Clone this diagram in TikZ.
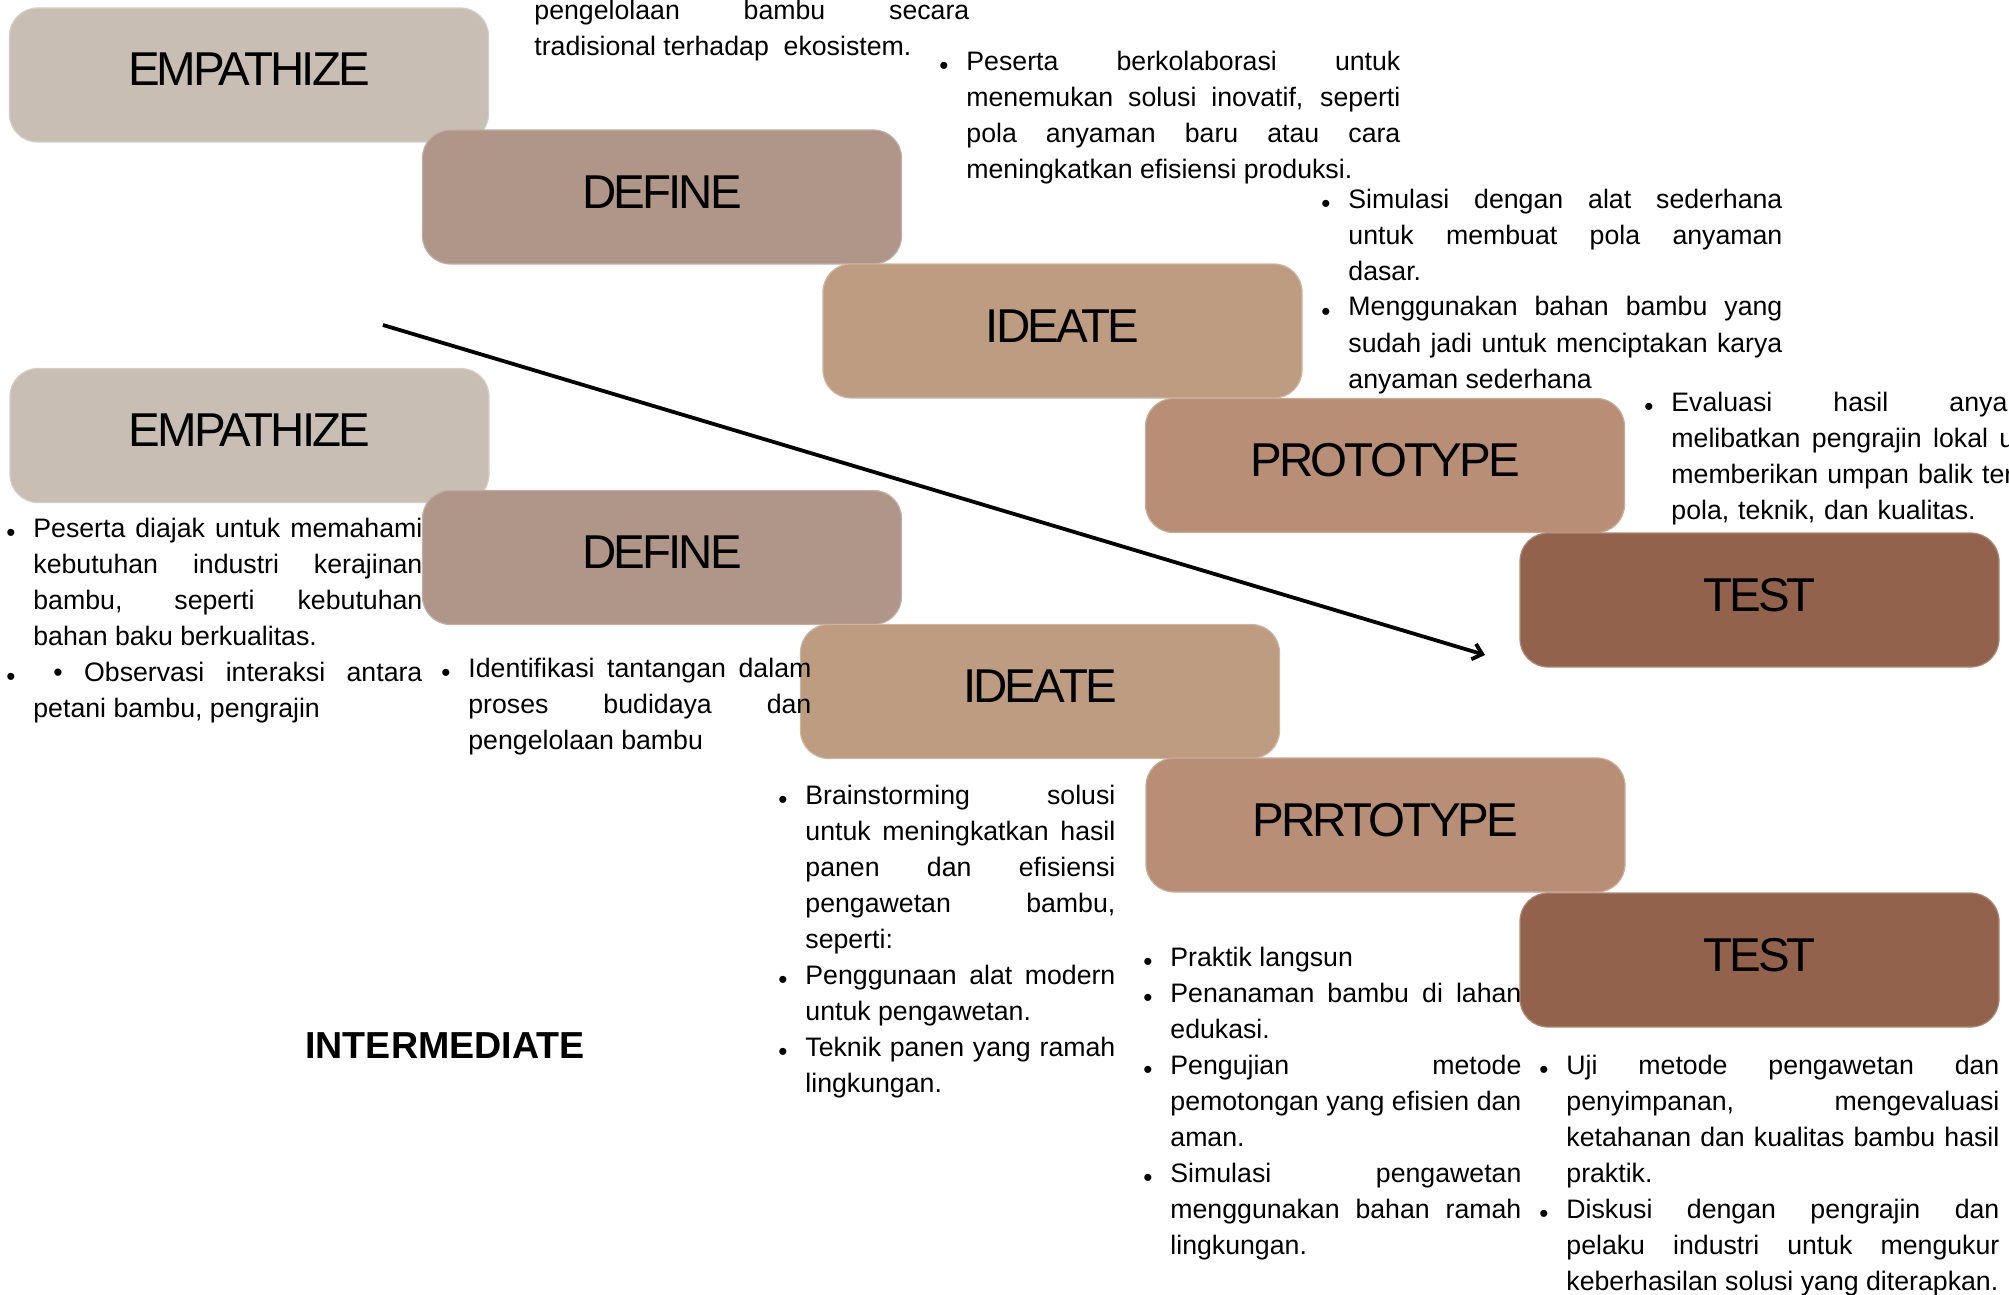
\documentclass[tikz,border=0pt]{standalone}
\usepackage{fontspec}
\setmainfont{Liberation Sans}
\newfontfamily\stagefamily[LetterSpace=-6]{Liberation Sans}
\usetikzlibrary{arrows.meta}

\definecolor{empcol}{HTML}{C8BEB3}
\definecolor{defcol}{HTML}{B09589}
\definecolor{ideacol}{HTML}{BD9C81}
\definecolor{protcol}{HTML}{B88F76}
\definecolor{testcol}{HTML}{92624D}

\newcommand{\dotmark}{\noindent\llap{\raisebox{-2pt}{\fontsize{13}{13}\selectfont\textbullet}\hspace{9pt}}}

\begin{document}
\begin{tikzpicture}[
    x=0.5pt,
    y=-0.5pt,
    stage/.style={
        fill=#1,
        draw=#1!75!white,
        line width=0.6pt,
        rounded corners=14pt,
        minimum width=239.5pt,
        minimum height=67pt,
        inner sep=0pt,
        text height=17pt,
        text depth=6pt,
        font=\stagefamily\fontsize{23.75}{28}\selectfont
    },
    body/.style={
        anchor=base west,
        inner sep=0pt,
        align=justify,
        font=\fontsize{13.35}{18}\selectfont
    },
    flow/.style={
        -{Straight Barb[length=4.5pt,width=8pt]},
        line width=1.9pt
    }
    ]
    \useasboundingbox (0,0) rectangle (2009,1295);

    \node[stage=empcol] (emp1) at (249,75) {EMPATHIZE};
    \node[stage=defcol] (def1) at (662,197) {DEFINE};
    \node[stage=ideacol] (idea1) at (1062.5,331) {IDEATE};
    \node[stage=protcol] (proto1) at (1385,465.5) {PROTOTYPE};
    \node[stage=testcol] (test1) at (1759.5,600) {TEST};

    \node[stage=empcol] (emp2) at (249.5,435.5) {EMPATHIZE};
    \node[stage=defcol] (def2) at (662,557.5) {DEFINE};
    \node[stage=ideacol] (idea2) at (1040,691.5) {IDEATE};
    \node[stage=protcol] (proto2) at (1385.5,825) {PRRTOTYPE};
    \node[stage=testcol] (test2) at (1759.5,960) {TEST};

    \coordinate (arrowtail) at (383,325);
    \coordinate (arrowtip) at (1485,655);
    \draw[flow] (arrowtail) -- (arrowtip);

    \node[body, text width=217.5pt] (tradisi) at (534,20) {pengelolaan bambu secara\linebreak tradisional terhadap\ \ ekosistem.};
    \node[body, text width=217pt] (kolab) at (966,71) {\dotmark Peserta berkolaborasi untuk\linebreak menemukan solusi inovatif, seperti\linebreak pola anyaman baru atau cara\linebreak meningkatkan efisiensi produksi.};
    \node[body, text width=217pt] (simulasi) at (1348,208) {\dotmark Simulasi dengan alat sederhana\linebreak untuk membuat pola anyaman\linebreak dasar.\par\dotmark Menggunakan bahan bambu yang\linebreak sudah jadi untuk menciptakan karya\linebreak anyaman sederhana};
    \begin{scope}
        \clip (0,0) rectangle (2009,1295);
        \node[body, text width=200pt, align=left] (evaluasi) at (1671,411) {\dotmark\makebox[168pt][l]{Evaluasi\hfill hasil\hfill anya}\\
        \makebox[171.5pt][l]{melibatkan\hfill pengrajin\hfill lokal\hfill u}\\
        \makebox[171pt][l]{memberikan\hfill umpan\hfill balik\hfill ter}\\
        pola, teknik, dan kualitas.};
    \end{scope}

    \node[body, text width=194.5pt] (paham) at (33,537) {\dotmark Peserta diajak untuk memahami\linebreak kebutuhan industri kerajinan\linebreak bambu, seperti kebutuhan\linebreak bahan baku berkualitas.\par\dotmark\hspace*{10pt}\textbullet\ Observasi interaksi antara\linebreak petani bambu, pengrajin};
    \node[body, text width=171.5pt] (tantangan) at (468,677) {\dotmark Identifikasi tantangan dalam\linebreak proses budidaya dan\linebreak pengelolaan bambu};
    \node[body, text width=155pt] (brainstorm) at (805,804) {\dotmark Brainstorming solusi\linebreak untuk meningkatkan hasil\linebreak panen dan efisiensi\linebreak pengawetan bambu,\linebreak seperti:\par\dotmark Penggunaan alat modern\linebreak untuk pengawetan.\par\dotmark Teknik panen yang ramah\linebreak lingkungan.};
    \node[body, text width=175.5pt] (praktik) at (1170,966) {\dotmark Praktik langsun\par\dotmark Penanaman bambu di lahan\linebreak edukasi.\par\dotmark Pengujian metode\linebreak pemotongan yang efisien dan\linebreak aman.\par\dotmark Simulasi pengawetan\linebreak menggunakan bahan ramah\linebreak lingkungan.};
    \node[body, text width=216.5pt] (uji) at (1566,1074) {\dotmark Uji metode pengawetan dan\linebreak penyimpanan, mengevaluasi\linebreak ketahanan dan kualitas bambu hasil\linebreak praktik.\par\dotmark Diskusi dengan pengrajin dan\linebreak pelaku industri untuk mengukur\linebreak keberhasilan solusi yang diterapkan.};

    \node[anchor=base, inner sep=0pt, font=\bfseries\fontsize{18.8}{22}\selectfont] (level) at (445,1058) {INTERMEDIATE};
\end{tikzpicture}
\end{document}
